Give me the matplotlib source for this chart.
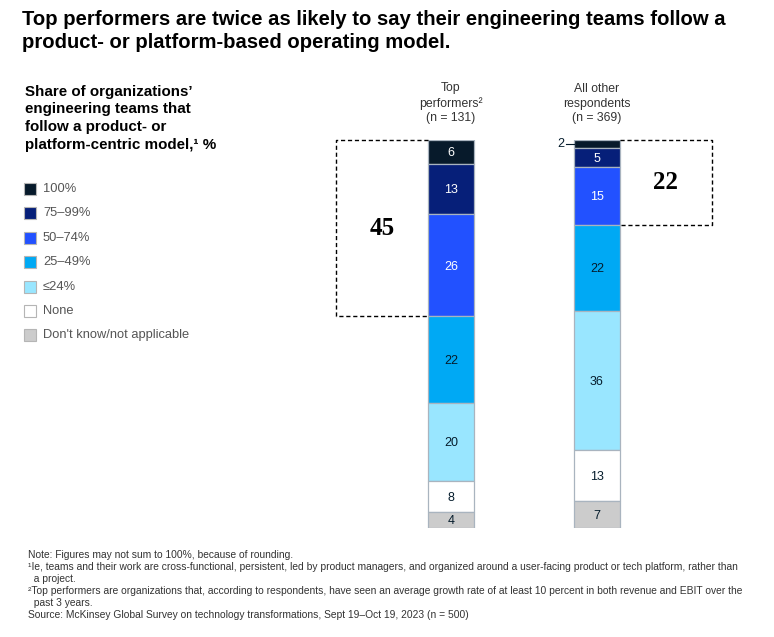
import matplotlib
matplotlib.use("Agg")
import matplotlib.pyplot as plt
from matplotlib.patches import Rectangle

# ---------------- data ----------------
title_lines = ["Top performers are twice as likely to say their engineering teams follow a",
               "product- or platform-based operating model."]
subtitle_lines = ["Share of organizations\u2019", "engineering teams that",
                  "follow a product- or", "platform-centric model,\u00b9 %"]
categories = ["100%", "75\u201399%", "50\u201374%", "25\u201349%", "\u226424%", "None",
              "Don't know/not applicable"]
groups = ["Top\nperformers\u00b2\n(n = 131)", "All other\nrespondents\n(n = 369)"]
top_performers = [6, 13, 26, 22, 20, 8, 4]
all_others = [2, 5, 15, 22, 36, 13, 7]
highlight_totals = [45, 22]
footnotes = [
    "Note: Figures may not sum to 100%, because of rounding.",
    "\u00b9Ie, teams and their work are cross-functional, persistent, led by product managers, and organized around a user-facing product or tech platform, rather than",
    "  a project.",
    "\u00b2Top performers are organizations that, according to respondents, have seen an average growth rate of at least 10 percent in both revenue and EBIT over the",
    "  past 3 years.",
    "Source: McKinsey Global Survey on technology transformations, Sept 19\u2013Oct 19, 2023 (n = 500)",
]

# ---------------- style ----------------
colors = ["#071a2b", "#061f79", "#2251ff", "#00a9f4", "#99e6ff", "#ffffff", "#cccccc"]
text_colors = ["white", "white", "white", "#051c2c", "#051c2c", "#051c2c", "#051c2c"]
DARK = "#051c2c"

W, H = 774, 637
fig = plt.figure(figsize=(W / 100, H / 100), dpi=100)
fig.patch.set_facecolor("white")

def fx(x):
    return x / W

def fy(y):
    return 1 - y / H

sans = ["Liberation Sans", "DejaVu Sans"]
serif = ["Liberation Serif", "DejaVu Serif"]

# title
for i, line in enumerate(title_lines):
    fig.text(fx(22), fy(25 + 22.5 * i), line, fontsize=14.6, fontweight="bold",
             family=sans, color="black", va="baseline", ha="left")

# subtitle
for i, line in enumerate(subtitle_lines):
    fig.text(fx(25), fy(96 + 17.5 * i), line, fontsize=10.9, fontweight="bold",
             family=sans, color="black", va="baseline", ha="left")

# legend
leg_y0, leg_dy = 189, 24.4
for i, (lab, c) in enumerate(zip(categories, colors)):
    yc = leg_y0 + leg_dy * i
    fig.patches.append(Rectangle((fx(24), fy(yc + 6)), 12 / W, 12 / H,
                                 transform=fig.transFigure, facecolor=c,
                                 edgecolor="#b5b5b5", linewidth=0.8))
    fig.text(fx(43), fy(yc), lab, fontsize=9.3, family=sans, color="#555555",
             va="center", ha="left")

# ---------------- bars ----------------
left_px, right_px, top_px, bot_px = 330, 730, 140, 528
ax = fig.add_axes([fx(left_px), fy(bot_px), (right_px - left_px) / W, (bot_px - top_px) / H])
c0, c1 = 451, 597
unit = c1 - c0
ax.set_xlim((left_px - c0) / unit, 1 + (right_px - c1) / unit)
ax.set_ylim(100, 0)
ax.axis("off")
bar_w = 46 / unit

for gi, vals in enumerate([top_performers, all_others]):
    tot = sum(vals)
    scaled = [v / tot * 100 for v in vals]
    bottom = 0
    for k, (v, s) in enumerate(zip(vals, scaled)):
        ax.bar(gi, s, bottom=bottom, width=bar_w, color=colors[k],
               edgecolor="#a9b4bf", linewidth=0.9)
        ymid = bottom + s / 2
        if v >= 4:
            ax.text(gi, ymid + 0.3, str(v), ha="center", va="center", fontsize=9,
                    family=sans, color=text_colors[k])
        else:
            ax.text(gi - bar_w / 2 - 13 / unit, ymid, str(v), ha="center", va="center",
                    fontsize=9, family=sans, color=DARK)
            ax.plot([gi - bar_w / 2 - 8 / unit, gi - bar_w / 2], [ymid, ymid],
                    color=DARK, lw=0.8)
        bottom += s
    # header
    ax.text(gi, -4, groups[gi], ha="center", va="bottom", fontsize=8.8,
            family=sans, color="#333333", linespacing=1.3)

# dashed highlight boxes
tp_tot = sum(top_performers)
ao_tot = sum(all_others)
h0 = sum(top_performers[:3]) / tp_tot * 100
h1 = sum(all_others[:3]) / ao_tot * 100
lx0 = (336 - c0) / unit
lx1 = -bar_w / 2
ax.plot([lx1, lx0, lx0, lx1], [0, 0, h0, h0], ls=(0, (3, 2)), color="black", lw=1,
        clip_on=False)
ax.text((lx0 + lx1) / 2, h0 / 2, str(highlight_totals[0]), ha="center", va="center",
        fontsize=18, family=serif, fontweight="bold", color="black")
rx0 = 1 + bar_w / 2
rx1 = 1 + (712 - c1) / unit
ax.plot([rx0, rx1, rx1, rx0], [0, 0, h1, h1], ls=(0, (3, 2)), color="black", lw=1,
        clip_on=False)
ax.text((rx0 + rx1) / 2, h1 / 2, str(highlight_totals[1]), ha="center", va="center",
        fontsize=18, family=serif, fontweight="bold", color="black")

# footnotes
foot_y = [555, 567, 579, 591, 603, 615]
for y, line in zip(foot_y, footnotes):
    fig.text(fx(28), fy(y), line, fontsize=7.4, family=sans, color="#333333",
             va="center", ha="left")

fig.savefig("out.png", dpi=100, facecolor="white")
